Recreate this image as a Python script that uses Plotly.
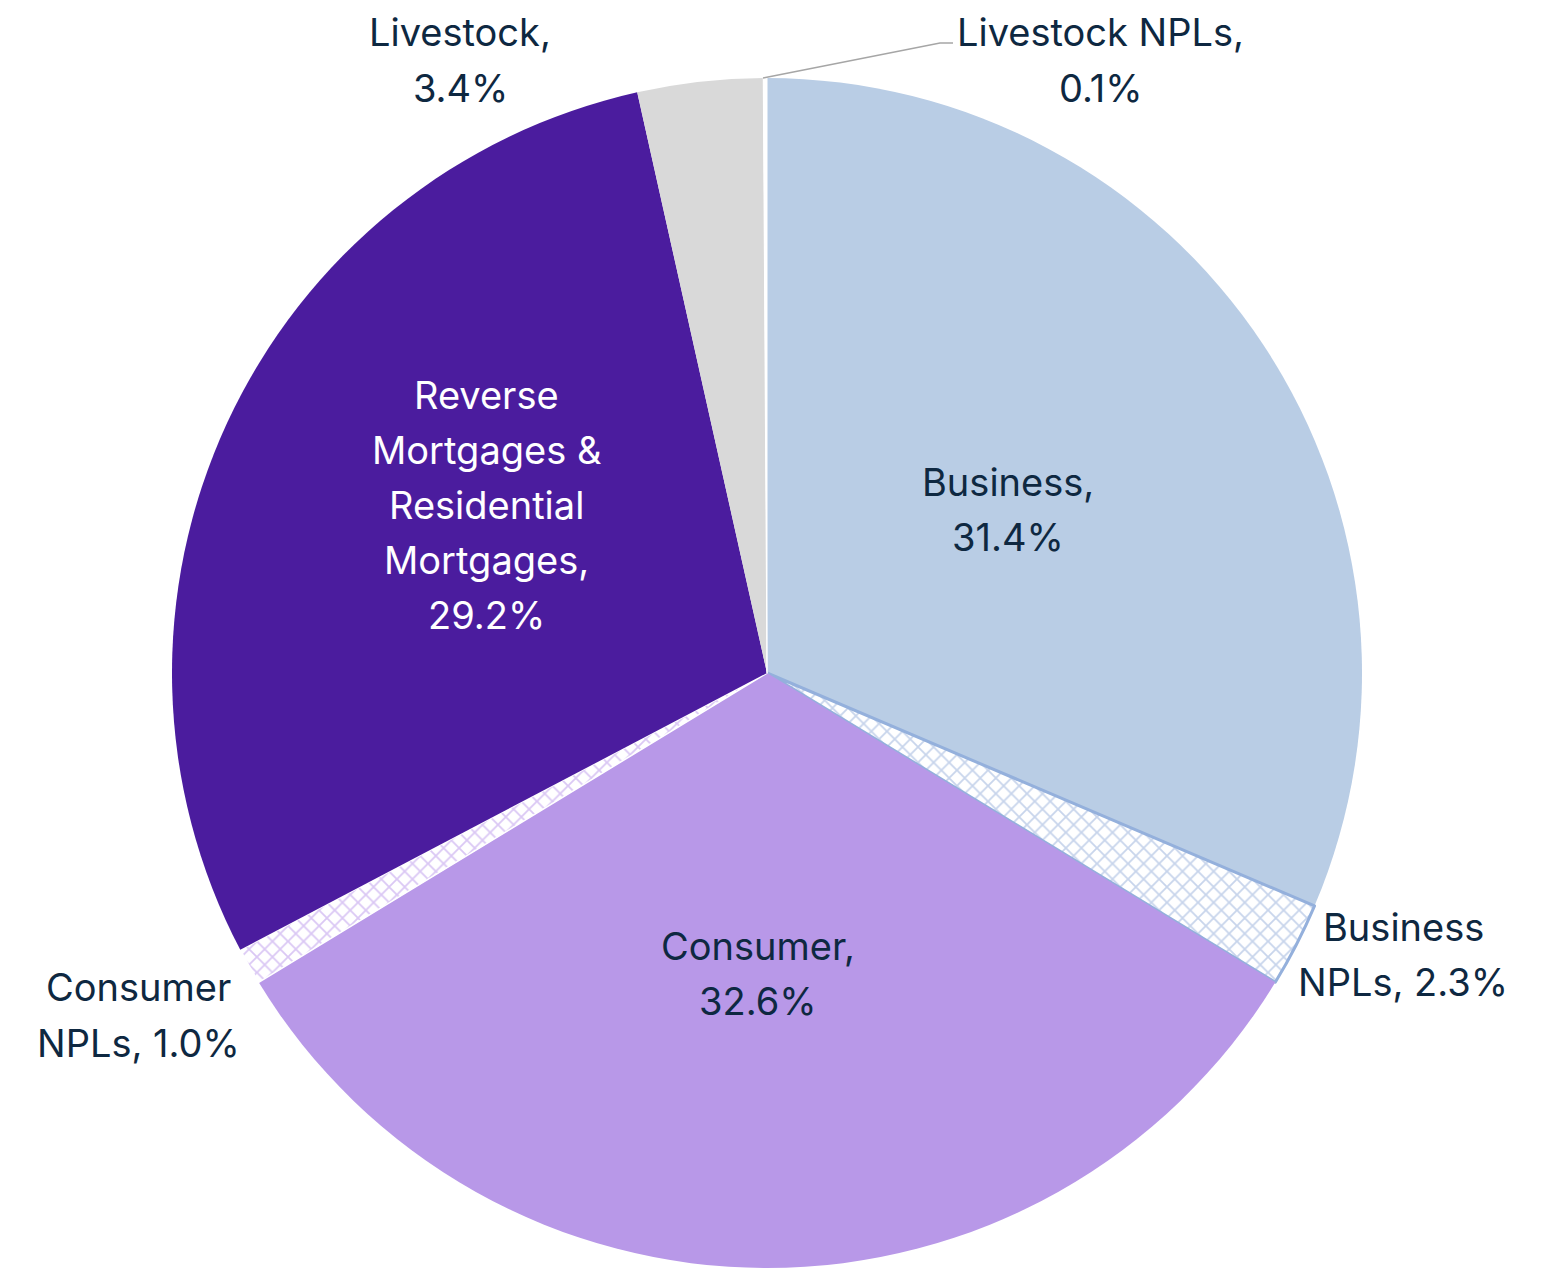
import plotly.graph_objects as go

categories = ["Business", "Business NPLs", "Consumer", "Consumer NPLs",
              "Reverse Mortgages & Residential Mortgages", "Livestock", "Livestock NPLs"]
shares = [31.4, 2.3, 32.6, 1.0, 29.2, 3.4, 0.1]
label_lines = [["Business,", "31.4%"], ["Business", "NPLs, 2.3%"], ["Consumer,", "32.6%"],
               ["Consumer", "NPLs, 1.0%"],
               ["Reverse", "Mortgages &", "Residential", "Mortgages,", "29.2%"],
               ["Livestock,", "3.4%"], ["Livestock NPLs,", "0.1%"]]

W, H = 1554, 1272
OFF = 8  # page body margin
CX, CY, R = 767 - OFF, 673 - OFF, 595


def px2paper(px, py):
    return (px - OFF) / W, 1 - (py - OFF) / H


fill_colors = ["#B9CDE5", "#FFFFFF", "#B898E8", "#FFFFFF", "#4B1C9E", "#D9D9D9", "#FFFFFF"]
pattern_shapes = ["", "x", "", "x", "", "", ""]
pattern_fg = ["#B9CDE5", "#8FA9D8", "#B898E8", "#B58FEA", "#4B1C9E", "#D9D9D9", "#FFFFFF"]
line_colors = ["#FFFFFF", "#94B0DC", "#FFFFFF", "#FFFFFF", "#FFFFFF", "#FFFFFF", "#FFFFFF"]
line_widths = [0, 3, 0, 1.5, 0, 0, 1]

fig = go.Figure(go.Pie(
    labels=categories, values=shares, sort=False, direction="clockwise", rotation=0,
    textinfo="none", hoverinfo="label+percent", showlegend=False,
    marker=dict(colors=fill_colors,
                line=dict(color=line_colors, width=line_widths),
                pattern=dict(shape=pattern_shapes, fgcolor=pattern_fg, bgcolor=fill_colors,
                             size=11, solidity=0.3, fillmode="overlay")),
    domain=dict(x=[(CX - R) / W, (CX + R) / W], y=[(H - CY - R) / H, (H - CY + R) / H]),
))

# label positions (pixel centres in reference)
label_pos = [(1008, 509), (1403, 954), (758, 973), (138, 1015), (487, 505), (460, 60), (1100, 60)]
label_colors = ["#0E2841", "#0E2841", "#0E2841", "#0E2841", "#FFFFFF", "#0E2841", "#0E2841"]
LINE_H = 55
for lines, (px, py), col in zip(label_lines, label_pos, label_colors):
    n = len(lines)
    for i, ln in enumerate(lines):
        ly = py + (i - (n - 1) / 2) * LINE_H
        x, y = px2paper(px, ly)
        fig.add_annotation(x=x, y=y, xref="paper", yref="paper", text=ln,
                           showarrow=False, align="center", xanchor="center", yanchor="middle",
                           borderpad=0,
                           font=dict(family="Inter, Roboto, sans-serif", size=38, color=col))

# leader line for Livestock NPLs
p0 = px2paper(763, 78)
p1 = px2paper(940, 43)
p2 = px2paper(953, 43)
fig.add_shape(type="path", xref="paper", yref="paper",
              path=f"M {p0[0]},{p0[1]} L {p1[0]},{p1[1]} L {p2[0]},{p2[1]}",
              line=dict(color="#A6A6A6", width=1.5))

fig.update_layout(width=W, height=H, margin=dict(l=0, r=0, t=0, b=0),
                  paper_bgcolor="white", plot_bgcolor="white")
fig.write_html("out.html")
